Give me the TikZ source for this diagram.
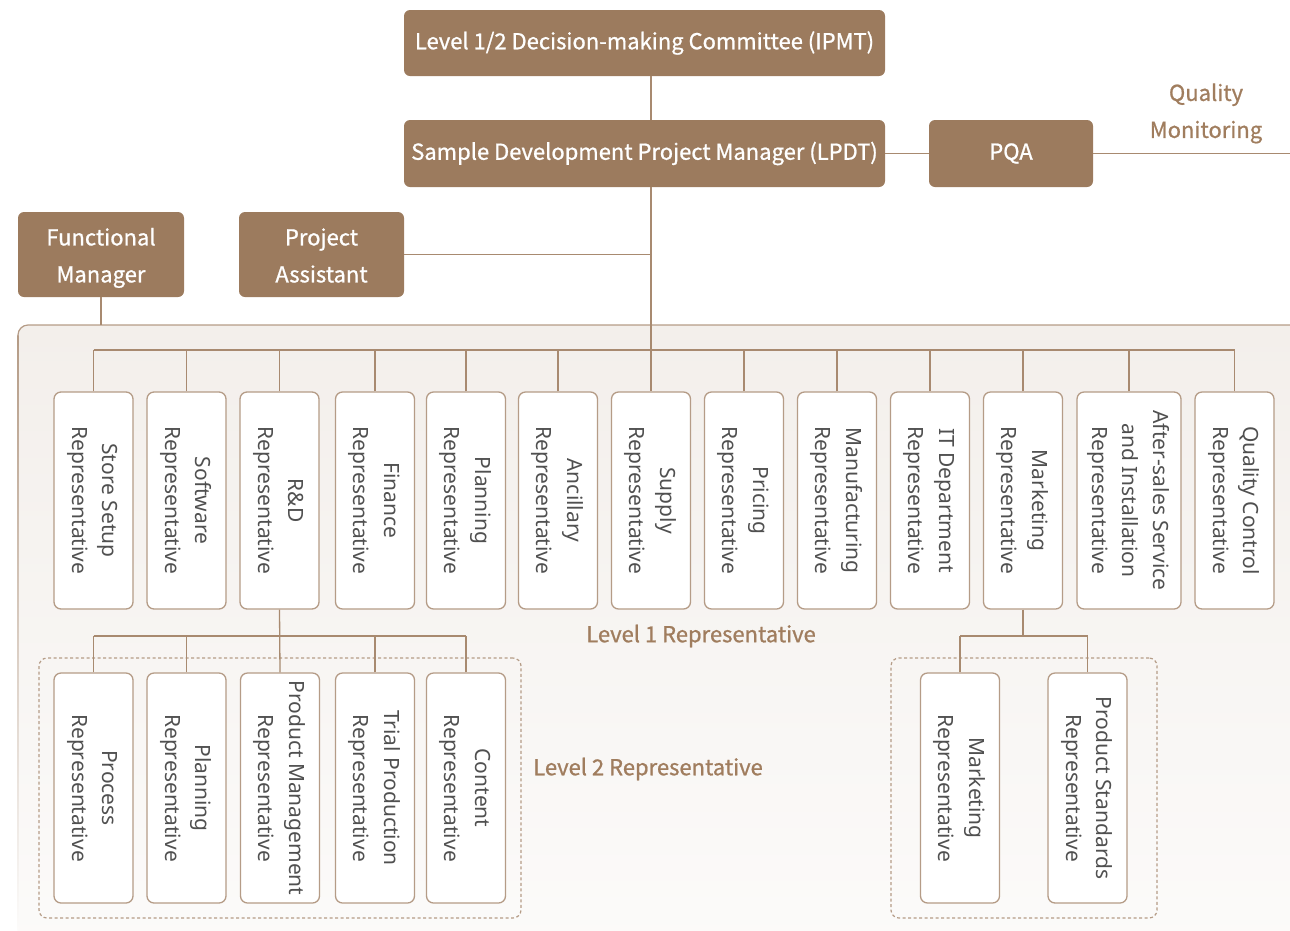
\documentclass[tikz,border=0pt]{standalone}
\usepackage{fontspec}
\usepackage{graphicx}
\setmainfont{Noto Sans}
\newfontfamily\hdfont{Noto Sans CJK SC}[FakeBold=0.9]
\newfontfamily\repfont{Noto Sans}
\definecolor{hdfill}{HTML}{9C7B5E}
\definecolor{linec}{HTML}{A88A70}
\definecolor{bord}{HTML}{B59C87}
\definecolor{reptext}{HTML}{505050}
\definecolor{lbltext}{HTML}{A07D5E}
\definecolor{pantop}{HTML}{F3EFEB}
\definecolor{panbot}{HTML}{FCFBFA}
% rotated multi-line caption for the representative boxes
\newcommand{\vtext}[1]{\rotatebox{-90}{\begin{tabular}{@{}c@{}}#1\end{tabular}}}
% stacked lines; extra room on top pushes the lines down inside the box
\newcommand{\hlines}[2][4pt]{\raisebox{0pt}[\dimexpr\height+#1\relax]{\begin{tabular}{@{}c@{}}#2\end{tabular}}}
\tikzset{
  hdbox/.style={fill=hdfill, rounded corners=6, text=white, inner sep=0,
    font=\hdfont\fontsize{22}{37}\selectfont, align=center},
  repbox/.style={draw=bord, fill=white, rounded corners=7, line width=1.3,
    inner sep=0, text=reptext, font=\repfont\fontsize{21}{30.5}\selectfont},
  lvone/.style={repbox, minimum width=79, minimum height=217},
  lvtwo/.style={repbox, minimum width=79, minimum height=230},
  conn/.style={draw=linec, line width=1.3},
  grp/.style={draw=bord, line width=1.2, dash pattern=on 3pt off 2.5pt, rounded corners=8},
  lbl/.style={text=lbltext, font=\hdfont\fontsize{22}{37}\selectfont, align=center}
}
\begin{document}
\begin{tikzpicture}[x=1pt, y=-1pt]
\useasboundingbox (0,0) rectangle (1290,930);

% background panel for the representatives
\shade[top color=pantop, bottom color=panbot, rounded corners=10] (18,325) rectangle (1320,960);
\shade[top color=bord, bottom color=panbot] (17.4,335) rectangle (18.6,930);
\draw[draw=bord, line width=1.2, rounded corners=10] (18,345) -- (18,325) -- (1320,325);

% management boxes
\node[hdbox, minimum width=481, minimum height=66] (ipmt) at (644.5,43) {Level 1/2 Decision-making Committee (IPMT)};
\node[hdbox, minimum width=481, minimum height=67] (lpdt) at (644.5,153.5) {Sample Development Project Manager (LPDT)};
\node[hdbox, minimum width=164, minimum height=67] (pqa) at (1011,153.5) {PQA};
\node[hdbox, minimum width=166, minimum height=85] (fm) at (101,254.5) {\hlines{Functional\\Manager}};
\node[hdbox, minimum width=165, minimum height=85] (pa) at (321.5,254.5) {\hlines{Project\\Assistant}};
\node[lbl] (qm) at (1206,112) {\hlines[0pt]{Quality\\Monitoring}};
\coordinate (qmend) at (1290,153.5);
\coordinate (panel) at (0,325);

% level 1 representatives
\node[lvone] (store) at (93.5,500.5) {\vtext{Store Setup\\Representative}};
\node[lvone] (soft) at (186.5,500.5) {\vtext{Software\\Representative}};
\node[lvone] (rd) at (279.5,500.5) {\vtext{R\&D\\Representative}};
\node[lvone] (fin) at (375,500.5) {\vtext{Finance\\Representative}};
\node[lvone] (plan) at (466,500.5) {\vtext{Planning\\Representative}};
\node[lvone] (anc) at (558,500.5) {\vtext{Ancillary\\Representative}};
\node[lvone] (sup) at (651,500.5) {\vtext{Supply\\Representative}};
\node[lvone] (price) at (744,500.5) {\vtext{Pricing\\Representative}};
\node[lvone] (manu) at (837,500.5) {\vtext{Manufacturing\\Representative}};
\node[lvone] (it) at (930,500.5) {\vtext{IT Department\\Representative}};
\node[lvone] (mkt) at (1023,500.5) {\vtext{Marketing\\Representative}};
\node[lvone, minimum width=104] (after) at (1129,500.5) {\vtext{After-sales Service\\and Installation\\Representative}};
\node[lvone] (qc) at (1234.5,500.5) {\vtext{Quality Control\\Representative}};
\coordinate (busone) at (0,350);

% level 2 groups
\node[grp, minimum width=482, minimum height=260] (grpa) at (280,788) {};
\node[grp, minimum width=266, minimum height=260] (grpb) at (1024,788) {};
\coordinate (bustwo) at (0,636);

\node[lvtwo] (proc) at (93.5,788) {\vtext{Process\\Representative}};
\node[lvtwo] (plantwo) at (186.5,788) {\vtext{Planning\\Representative}};
\node[lvtwo] (pm) at (280,788) {\vtext{Product Management\\Representative}};
\node[lvtwo] (trial) at (375,788) {\vtext{Trial Production\\Representative}};
\node[lvtwo] (cont) at (466,788) {\vtext{Content\\Representative}};
\node[lvtwo] (mkttwo) at (960,788) {\vtext{Marketing\\Representative}};
\node[lvtwo] (pstd) at (1087.5,788) {\vtext{Product Standards\\Representative}};

\node[lbl] (lone) at (701,636) {Level 1 Representative};
\node[lbl] (ltwo) at (648,769) {Level 2 Representative};

% connectors
\path[conn] (ipmt.south -| sup.north) -- (lpdt.north -| sup.north);
\path[conn] (lpdt.south -| sup.north) -- (sup.north);
\path[conn] (lpdt.east) -- (pqa.west);
\path[conn] (pqa.east) -- (qmend);
\path[conn] (pa.east) -- (pa.east -| sup.north);
\path[conn] (fm.south) -- (fm.south |- panel);
\path[conn] (store.north |- busone) -- (qc.north |- busone);
\foreach \n in {store,soft,rd,fin,plan,anc,price,manu,it,mkt,after,qc}
  \path[conn] (\n.north) -- (\n.north |- busone);
\path[conn] (rd.south) -- (pm.north);
\path[conn] (proc.north |- bustwo) -- (cont.north |- bustwo);
\foreach \n in {proc,plantwo,trial,cont}
  \path[conn] (\n.north) -- (\n.north |- bustwo);
\path[conn] (mkt.south) -- (mkt.south |- bustwo);
\path[conn] (mkttwo.north |- bustwo) -- (pstd.north |- bustwo);
\foreach \n in {mkttwo,pstd}
  \path[conn] (\n.north) -- (\n.north |- bustwo);
\end{tikzpicture}
\end{document}
